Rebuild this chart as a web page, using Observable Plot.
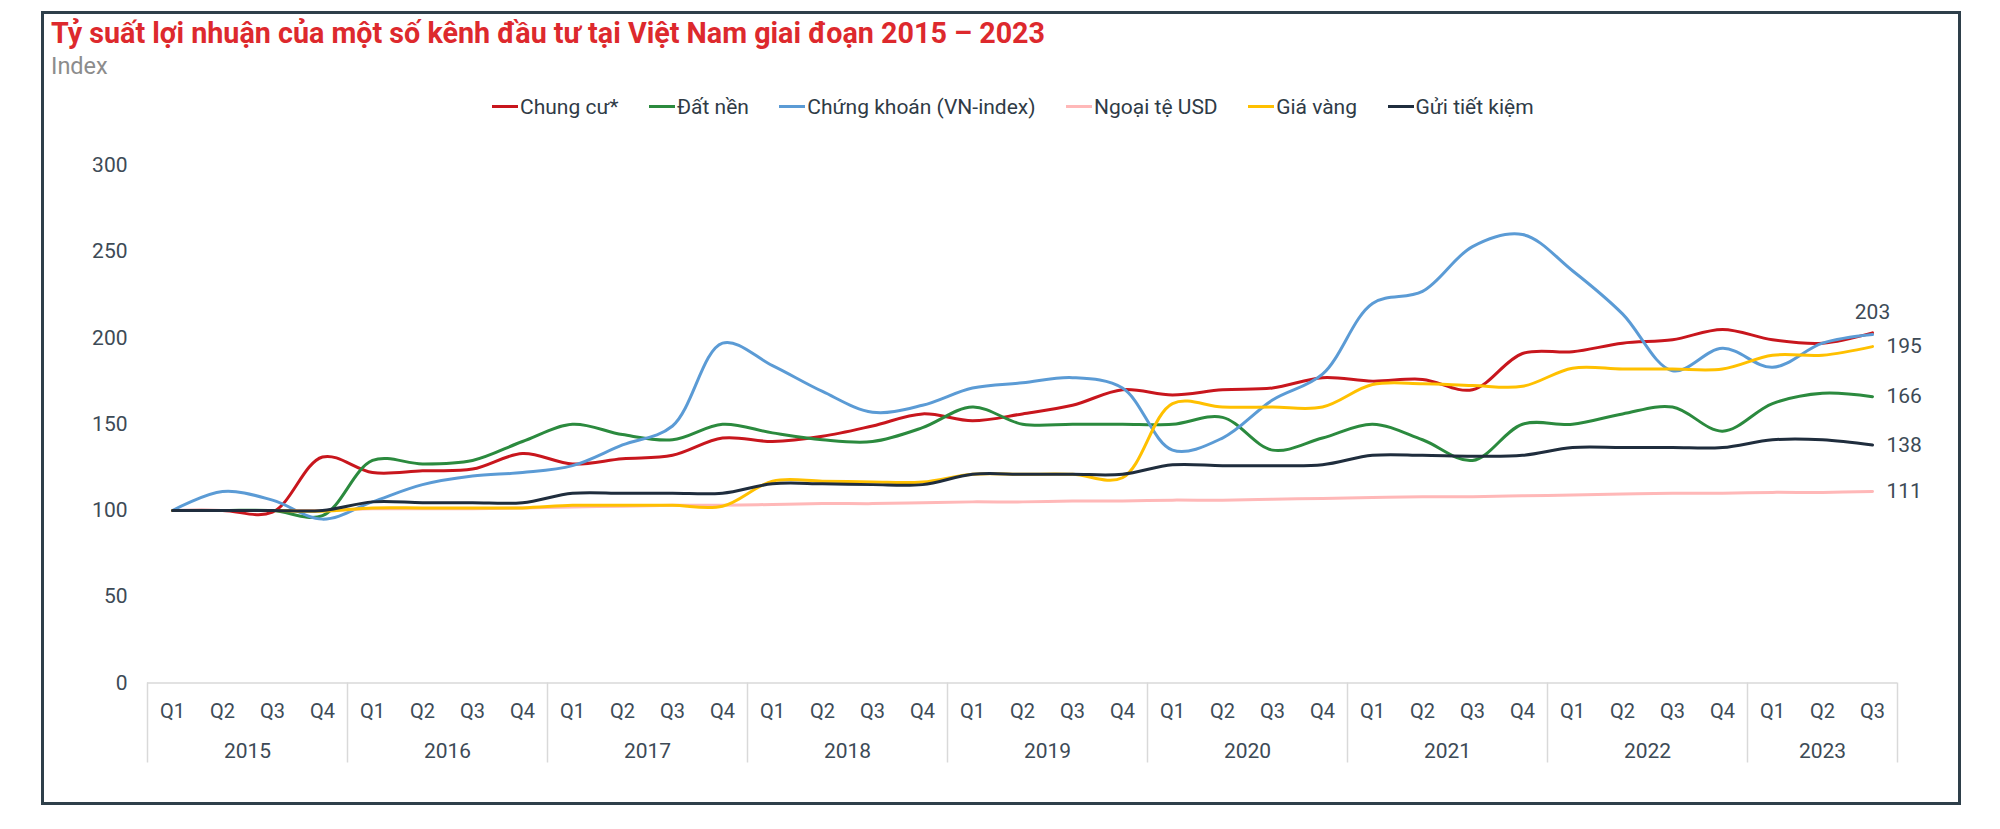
<!DOCTYPE html>
<html><head><meta charset="utf-8">
<script src="https://cdn.jsdelivr.net/npm/d3@7"></script>
<script src="https://cdn.jsdelivr.net/npm/@observablehq/plot@0.6"></script>
<style>
body{margin:0;background:#fff;font-family:Roboto,sans-serif;}
#wrap{position:relative;width:2000px;height:829px;overflow:hidden;background:#fff;}
#frame{position:absolute;left:41px;top:11px;width:1920px;height:794px;border:3px solid #2e3f4a;box-sizing:border-box;}
#title{position:absolute;left:51px;top:19px;font-size:28.7px;line-height:28.7px;font-weight:700;color:#dd292d;white-space:nowrap;}
#sub{position:absolute;left:51px;top:55px;font-size:23.5px;line-height:23.5px;color:#8c8c8c;}
#legend{position:absolute;left:492px;top:94.5px;height:24px;display:flex;align-items:center;gap:30.5px;font-size:21px;line-height:24px;color:#2f3b46;white-space:nowrap;}
.item{display:flex;align-items:center;}
.sw{display:inline-block;width:26px;height:3px;margin-right:2px;}
#chart{position:absolute;left:0;top:140px;}
</style></head>
<body><div id="wrap">
<div id="frame"></div>
<div id="title">Tỷ suất lợi nhuận của một số kênh đầu tư tại Việt Nam giai đoạn 2015 – 2023</div>
<div id="sub">Index</div>
<div id="legend"></div>
<div id="chart"></div>
</div>
<script>
// ---- data ----
const qLabels = ["Q1","Q2","Q3","Q4","Q1","Q2","Q3","Q4","Q1","Q2","Q3","Q4","Q1","Q2","Q3","Q4","Q1","Q2","Q3","Q4","Q1","Q2","Q3","Q4","Q1","Q2","Q3","Q4","Q1","Q2","Q3","Q4","Q1","Q2","Q3"];
const yearLabels = ["2015","2016","2017","2018","2019","2020","2021","2022","2023"];
const yearQuarterCounts = [4,4,4,4,4,4,4,4,3];
const yTicks = [0,50,100,150,200,250,300];

const seriesNames = ["Chung cư*","Đất nền","Chứng khoán (VN-index)","Ngoại tệ USD","Giá vàng","Gửi tiết kiệm"];
const seriesColors = ["#c8161d","#2b8a3e","#5b9bd5","#ffb8b8","#ffc000","#1f2d3d"];

const chungCu = [100,100,99,131,122,123,124,133,127,130,132,142,140,143,149,156,152,156,161,170,167,170,171,177,175,176,170,191,192,197,199,205,199,197,203];
const datNen = [100,100,100,97,129,127,129,140,150,144,141,150,145,141,140,148,160,150,150,150,150,154,135,142,150,141,129,150,150,156,160,146,162,168,166];
const chungKhoan = [100,111,106,95,105,115,120,122,126,138,149,197,184,169,157,161,171,174,177,171,135,142,164,179,220,227,253,260,239,214,181,194,183,197,202];
const ngoaiTeUSD = [100,100,100,100,101,101,101,101.5,102,102.5,103,103,103.5,104,104,104.5,105,105,105.5,105.5,106,106,106.5,107,107.5,108,108,108.5,109,109.5,110,110,110.5,110.5,111];
const giaVang = [100,100,100,99.6,101.5,101.5,101.5,101.5,103,103,103,102.5,117,117,116.5,116.5,121,121,121,119,162,160,160,160,173,173.5,172.5,172,182.5,182,182,182,190,190,195];
const guiTietKiem = [100,100,100,100,105,104.5,104.5,104.5,110,110,110,110,115.5,115.5,115,115,121,121,121,121,126.5,126,126,126.5,132,132,131.5,132,136.5,136.5,136.5,136.5,141,141,138];

const seriesValues = [chungCu, datNen, chungKhoan, ngoaiTeUSD, giaVang, guiTietKiem];
const labelledSeries = ["Chung cư*","Đất nền","Ngoại tệ USD","Giá vàng","Gửi tiết kiệm"];

// ---- derived tables ----
const rows = [];
seriesNames.forEach((s, k) => seriesValues[k].forEach((v, i) => rows.push({series: s, i, v})));
const last = qLabels.length - 1;
const endRows = seriesNames.map((s, k) => ({series: s, i: last, v: seriesValues[k][last]}))
  .filter(d => labelledSeries.includes(d.series));

const bandEdges = [-0.5];
const yearCenters = [];
let acc = 0;
yearQuarterCounts.forEach(n => { yearCenters.push(acc + (n - 1) / 2); acc += n; bandEdges.push(acc - 0.5); });

// ---- legend ----
const legend = document.getElementById("legend");
seriesNames.forEach((s, k) => {
  const it = document.createElement("div"); it.className = "item";
  const sw = document.createElement("span"); sw.className = "sw"; sw.style.background = seriesColors[k];
  const tx = document.createElement("span"); tx.textContent = s;
  it.appendChild(sw); it.appendChild(tx); legend.appendChild(it);
});

// ---- chart ----
const textColor = "#3d4a56";
const chart = Plot.plot({
  width: 2000, height: 640,
  marginLeft: 147, marginRight: 103, marginTop: 25, marginBottom: 97.5,
  style: {fontFamily: "Roboto, sans-serif", fontSize: "21px", background: "transparent", overflow: "visible"},
  x: {type: "linear", domain: [-0.5, last + 0.5]},
  y: {domain: [0, 300]},
  color: {domain: seriesNames, range: seriesColors},
  marks: [
    Plot.ruleY([0], {stroke: "#d9d9d9", strokeWidth: 1.5}),
    Plot.axisY(yTicks, {tickSize: 0, tickPadding: 20, color: textColor, label: null}),
    Plot.axisX(bandEdges, {tickSize: 80, tickFormat: () => "", stroke: "#d9d9d9", strokeWidth: 1.5, label: null}),
    Plot.axisX(d3.range(qLabels.length), {tickSize: 0, tickPadding: 20.5, tickFormat: i => qLabels[i], fontSize: 20, color: textColor, label: null}),
    Plot.axisX(yearCenters, {tickSize: 0, tickPadding: 60.5, tickFormat: d => yearLabels[yearCenters.indexOf(d)], color: textColor, label: null}),
    Plot.line(rows, {x: "i", y: "v", z: "series", stroke: "series", curve: "catmull-rom", strokeWidth: 3}),
    Plot.text(endRows.filter(d => d.series === "Chung cư*"), {x: "i", y: "v", text: d => String(Math.round(d.v)), dy: -21, textAnchor: "middle", fill: textColor}),
    Plot.text(endRows.filter(d => d.series !== "Chung cư*"), {x: "i", y: "v", text: d => String(Math.round(d.v)), dx: 14, textAnchor: "start", fill: textColor})
  ]
});
document.getElementById("chart").appendChild(chart);
</script>
</body></html>
